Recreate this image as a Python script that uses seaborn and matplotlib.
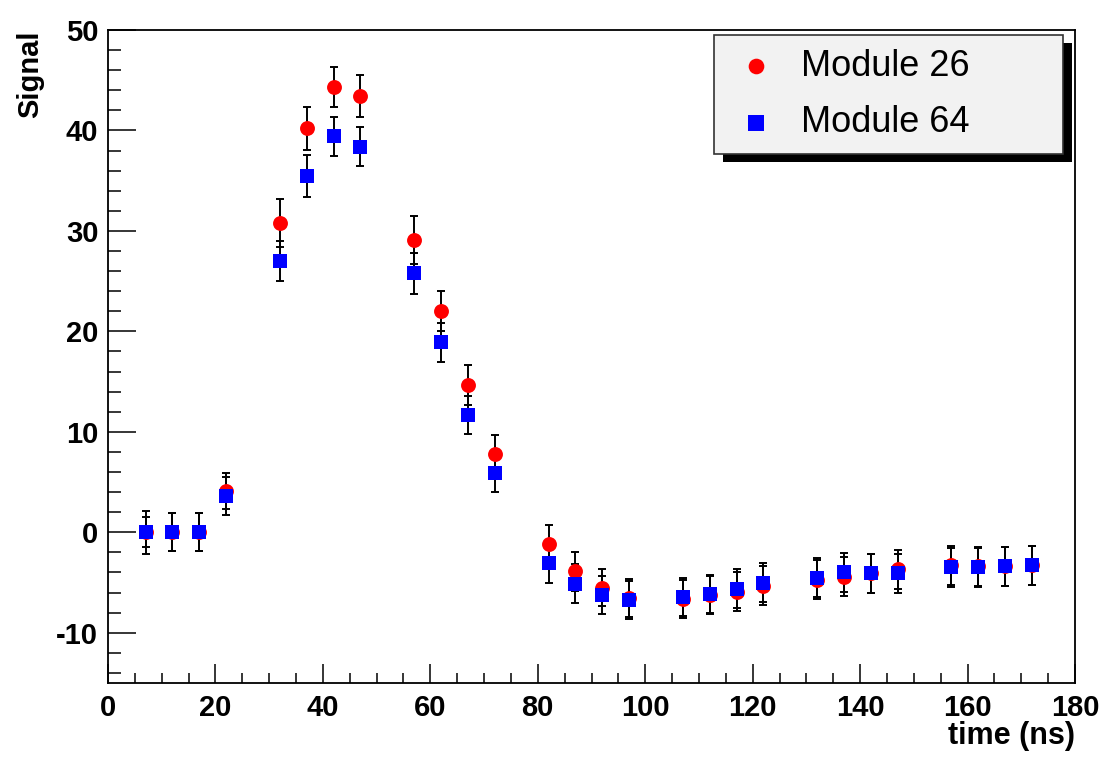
import matplotlib
matplotlib.use("Agg")
import matplotlib.pyplot as plt
import seaborn as sns
import pandas as pd
from matplotlib.patches import Rectangle
from matplotlib.ticker import MultipleLocator

# sample times (ns)
time_ns = [7, 12, 17, 22, 32, 37, 42, 47, 57, 62, 67, 72, 82, 87, 92, 97,
           107, 112, 117, 122, 132, 137, 142, 147, 157, 162, 167, 172]

mod26 = [0.0, 0.0, 0.0, 4.1, 30.8, 40.2, 44.3, 43.4, 29.1, 22.0, 14.7, 7.8,
         -1.2, -3.9, -5.5, -6.5, -6.6, -6.2, -5.9, -5.3, -4.7, -4.4, -4.1, -3.7,
         -3.3, -3.4, -3.4, -3.3]
err26 = [1.5, 1.9, 1.9, 1.8, 2.4, 2.1, 2.0, 2.1, 2.4, 2.0, 2.0, 1.9,
         1.9, 1.9, 1.8, 1.9, 1.9, 1.9, 1.9, 1.9, 1.9, 1.9, 1.9, 1.9,
         1.9, 1.9, 1.9, 1.9]

mod64 = [0.0, 0.0, 0.0, 3.6, 27.0, 35.5, 39.4, 38.4, 25.8, 18.9, 11.7, 5.9,
         -3.1, -5.1, -6.2, -6.7, -6.4, -6.1, -5.6, -5.0, -4.5, -4.0, -4.1, -4.1,
         -3.5, -3.5, -3.4, -3.3]
err64 = [2.15, 1.9, 1.9, 1.9, 2.0, 2.1, 1.9, 1.9, 2.05, 1.9, 1.9, 1.9,
         1.9, 1.9, 1.9, 1.9, 1.9, 1.9, 1.9, 1.9, 1.9, 1.9, 1.9, 1.9,
         1.9, 1.9, 1.9, 1.9]

df26 = pd.DataFrame({"time": time_ns, "signal": mod26, "err": err26})
df64 = pd.DataFrame({"time": time_ns, "signal": mod64, "err": err64})

sns.set_style("ticks")
plt.rcParams["font.family"] = ["Liberation Sans", "DejaVu Sans"]
plt.rcParams["text.color"] = "black"
plt.rcParams["axes.labelcolor"] = "black"
plt.rcParams["xtick.color"] = "black"
plt.rcParams["ytick.color"] = "black"
plt.rcParams["axes.unicode_minus"] = False

fig = plt.figure(figsize=(11.1, 7.62), dpi=100)
ax = fig.add_axes([108 / 1110, 1 - 683 / 762, (1075 - 108) / 1110, (683 - 30) / 762])

for d in (df26, df64):
    ax.errorbar(d["time"], d["signal"], yerr=d["err"], fmt="none",
                ecolor="black", elinewidth=1.4, capsize=3.2, capthick=1.4, zorder=2)

sns.scatterplot(data=df26, x="time", y="signal", color="#ff0000", marker="o",
                s=115, linewidth=0, label="Module 26", ax=ax, zorder=3)
sns.scatterplot(data=df64, x="time", y="signal", color="#0000ff", marker="s",
                s=115, linewidth=0, label="Module 64", ax=ax, zorder=4)

ax.set_xlim(0, 180)
ax.set_ylim(-15, 50)
ax.xaxis.set_major_locator(MultipleLocator(20))
ax.xaxis.set_minor_locator(MultipleLocator(5))
ax.yaxis.set_major_locator(MultipleLocator(10))
ax.yaxis.set_minor_locator(MultipleLocator(2))

ax.tick_params(axis="both", which="both", direction="in", width=1.1,
               top=False, right=False, labelsize=21)
ax.tick_params(axis="x", which="major", length=14, pad=8)
ax.tick_params(axis="x", which="minor", length=7)
ax.tick_params(axis="y", which="major", length=20, pad=7)
ax.tick_params(axis="y", which="minor", length=9.5)
for lab in ax.get_xticklabels() + ax.get_yticklabels():
    lab.set_fontweight("bold")

for sp in ax.spines.values():
    sp.set_linewidth(1.3)
    sp.set_color("black")

ax.set_xlabel("time (ns)", fontsize=22, fontweight="bold", loc="right")
ax.set_ylabel("Signal", fontsize=21, fontweight="bold", loc="top")
ax.xaxis.set_label_coords(1.0, -0.058)
ax.yaxis.set_label_coords(-0.066, 1.0)

leg = ax.legend(loc="upper left",
                bbox_to_anchor=(714 / 1110, 1 - 35 / 762, (1063 - 714) / 1110, 0.0),
                bbox_transform=fig.transFigure, mode="expand",
                fontsize=26, frameon=True, fancybox=False, shadow=False,
                borderpad=0.38, labelspacing=0.6, handletextpad=0.45,
                handlelength=1.57, markerscale=1.05, borderaxespad=0)
frame = leg.get_frame()
frame.set_facecolor("#f2f2f2")
frame.set_edgecolor("#333333")
frame.set_linewidth(1.2)
frame.set_alpha(1)
leg.set_zorder(6)

fig.canvas.draw()
bb = leg.get_window_extent().transformed(fig.transFigure.inverted())
off_x, off_y = 9 / 1110, 8 / 762
shadow = Rectangle((bb.x0 + off_x, bb.y0 - off_y), bb.width, bb.height,
                   transform=fig.transFigure, facecolor="black", edgecolor="none",
                   zorder=5, clip_on=False)
ax.add_artist(shadow)

fig.savefig("out.png", dpi=100)
